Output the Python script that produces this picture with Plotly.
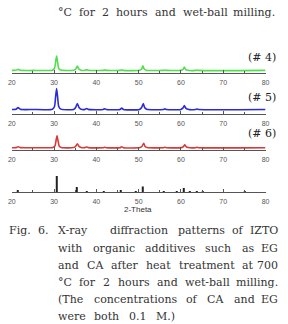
import plotly.graph_objects as go

W, H = 288, 324

# ---------------- data ----------------
two_theta_green = [20, 21.0, 21.5, 22.0, 25, 29.6, 30.1, 30.35, 30.6, 30.85, 31.1, 31.6, 34.6, 35.1, 35.5, 35.9, 36.4,
                   37.3, 37.7, 38.1, 41.6, 42.0, 42.4, 45.6, 46.0, 46.4, 50.2, 50.7, 51.0, 51.3, 51.8, 55.8, 56.2, 56.6,
                   60.0, 60.5, 60.8, 61.1, 61.6, 63.4, 63.8, 64.2, 80]
intensity_green = [2.6, 2.7, 3.6, 2.7, 2.6, 2.8, 4.5, 10.5, 17.0, 10.5, 4.5, 2.9, 2.7, 3.8, 7.0, 3.8, 2.8,
                   2.7, 3.4, 2.7, 2.6, 3.1, 2.6, 2.6, 3.1, 2.6, 2.7, 4.0, 7.3, 4.0, 2.8, 2.6, 3.0, 2.6,
                   2.7, 3.7, 6.0, 3.7, 2.8, 2.6, 3.0, 2.6, 2.6]

two_theta_blue = [20, 21.0, 21.5, 22.0, 25, 29.6, 30.1, 30.35, 30.6, 30.85, 31.1, 31.6, 34.6, 35.1, 35.5, 35.9, 36.4,
                  37.3, 37.7, 38.1, 41.6, 42.0, 42.4, 45.6, 46.0, 46.4, 50.2, 50.7, 51.1, 51.4, 51.9, 55.8, 56.2, 56.6,
                  60.0, 60.5, 60.8, 61.1, 61.6, 63.4, 63.8, 64.2, 80]
intensity_blue = [4.0, 4.2, 6.0, 4.2, 4.0, 4.3, 7.0, 16.0, 25.0, 16.0, 7.0, 4.4, 4.1, 6.0, 10.0, 6.0, 4.3,
                  4.1, 5.0, 4.1, 4.0, 4.8, 4.0, 4.0, 5.5, 4.0, 4.1, 6.0, 10.0, 6.0, 4.3, 4.0, 4.6, 4.0,
                  4.1, 5.6, 8.0, 5.6, 4.3, 4.0, 4.5, 4.0, 4.0]

two_theta_red = [20, 21.0, 21.5, 22.0, 25, 29.7, 30.2, 30.45, 30.7, 30.95, 31.2, 31.7, 34.6, 35.1, 35.5, 35.9, 36.4,
                 37.3, 37.7, 38.1, 41.6, 42.0, 42.4, 45.6, 46.0, 46.4, 50.3, 50.8, 51.2, 51.5, 52.0, 55.8, 56.2, 56.6,
                 60.1, 60.6, 60.9, 61.2, 61.7, 63.4, 63.8, 64.2, 80]
intensity_red = [2.3, 2.4, 3.3, 2.4, 2.3, 2.5, 4.0, 9.0, 14.3, 9.0, 4.0, 2.5, 2.4, 3.6, 6.3, 3.6, 2.5,
                 2.4, 3.0, 2.4, 2.3, 2.8, 2.3, 2.3, 3.2, 2.3, 2.4, 3.8, 6.8, 3.8, 2.5, 2.3, 2.7, 2.3,
                 2.4, 3.4, 5.3, 3.4, 2.5, 2.3, 2.7, 2.3, 2.3]

ref_two_theta = [21.5, 30.58, 35.47, 37.7, 41.85, 45.69, 49.3, 51.04, 55.99, 59.1, 60.68, 62.2, 63.7, 65.2, 75.2]
ref_intensity = [1.5, 16.0, 5.0, 1.0, 1.0, 1.2, 0.8, 5.5, 1.0, 0.8, 4.0, 0.8, 1.0, 0.8, 0.8]

panel_labels = ["(# 4)", "(# 5)", "(# 6)"]
tick_values = [20, 30, 40, 50, 60, 70, 80]
x_title = "2-Theta"

# caption words: (text, x px, anchor)
caption_top = [("°C", 53, "left"), ("for", 75, "left"), ("2", 99, "left"), ("hours", 113, "left"),
               ("and", 153, "left"), ("wet-ball", 182, "left"), ("milling.", 281, "right")]
caption_lines = [
    [("Fig.", 3, "left"), ("6.", 33, "left"), ("X-ray", 53, "left"), ("diffraction", 107, "left"),
     ("patterns", 177, "left"), ("of", 232, "left"), ("IZTO", 284, "right")],
    [("with", 53, "left"), ("organic", 89, "left"), ("additives", 143, "left"), ("such", 205, "left"),
     ("as", 243, "left"), ("EG", 284, "right")],
    [("and", 53, "left"), ("CA", 83, "left"), ("after", 108, "left"), ("heat", 144, "left"),
     ("treatment", 178, "left"), ("at", 243, "left"), ("700", 284, "right")],
    [("°C", 53, "left"), ("for", 75, "left"), ("2", 100, "left"), ("hours", 115, "left"),
     ("and", 155, "left"), ("wet-ball", 184, "left"), ("milling.", 284, "right")],
    [("(The", 53, "left"), ("concentrations", 90, "left"), ("of", 185, "left"), ("CA", 207, "left"),
     ("and", 235, "left"), ("EG", 284, "right")],
    [("were", 53, "left"), ("both", 90, "left"), ("0.1", 127, "left"), ("M.)", 154, "left")],
]
caption_y = [231, 248, 265, 282, 299, 316]

# ---------------- layout helpers ----------------
def px_x(p):
    return p / W

def px_y(p):
    return 1 - p / H

axis_px = [73, 113.5, 150, 192]
panel_h = 30
x0, x1 = 8, 269

fig = go.Figure()
series = [
    (two_theta_green, intensity_green, "#4fe04a"),
    (two_theta_blue, intensity_blue, "#2b2bd6"),
    (two_theta_red, intensity_red, "#d83a3a"),
]
for i, (xs, ys, col) in enumerate(series):
    ax = "" if i == 0 else str(i + 1)
    fig.add_trace(go.Scatter(x=xs, y=ys, mode="lines", line=dict(color=col, width=1.6, shape="spline", smoothing=0.6),
                             xaxis="x" + ax, yaxis="y" + ax, showlegend=False, hoverinfo="skip"))
fig.add_trace(go.Bar(x=ref_two_theta, y=ref_intensity, width=0.28, marker=dict(color="#222222", line=dict(width=0)),
                     xaxis="x4", yaxis="y4", showlegend=False, hoverinfo="skip"))

layout = dict(width=W, height=H, margin=dict(l=0, r=0, t=0, b=0), paper_bgcolor="white", plot_bgcolor="white",
              showlegend=False)
for i in range(4):
    k = "" if i == 0 else str(i + 1)
    bot = axis_px[i]
    layout["xaxis" + k] = dict(domain=[px_x(x0), px_x(x1)], range=[20, 80], anchor="y" + k,
                               showline=True, linecolor="#555", linewidth=1, showgrid=False, zeroline=False,
                               tickvals=tick_values, ticks="inside", ticklen=3, tickcolor="#555", tickwidth=1,
                               ticklabelstandoff=3,
                               minor=dict(dtick=5, tick0=20, ticks="inside", ticklen=2, tickcolor="#555"),
                               tickfont=dict(family="Liberation Sans", size=7, color="#555"))
    layout["yaxis" + k] = dict(domain=[px_y(bot), px_y(bot - panel_h)], range=[0, panel_h], anchor="x" + k,
                               visible=False, fixedrange=True)
fig.update_layout(**layout)

ann = []
for lbl, py in zip(panel_labels, [57, 97, 133]):
    ann.append(dict(text=lbl, x=px_x(282), y=px_y(py), xref="paper", yref="paper", xanchor="right", yanchor="middle",
                    showarrow=False, font=dict(family="DejaVu Serif", size=11, color="#222")))
ann.append(dict(text=x_title, x=px_x(138), y=px_y(209), xref="paper", yref="paper", xanchor="center",
                yanchor="middle", showarrow=False, font=dict(family="Liberation Sans", size=8, color="#333")))

serif = dict(family="DejaVu Serif", size=11, color="#333")
for word, px, anc in caption_top:
    ann.append(dict(text=word, x=px_x(px), y=px_y(13), xref="paper", yref="paper", xanchor=anc,
                    yanchor="middle", showarrow=False, font=serif))
for line, py in zip(caption_lines, caption_y):
    for word, px, anc in line:
        ann.append(dict(text=word, x=px_x(px), y=px_y(py), xref="paper", yref="paper", xanchor=anc,
                        yanchor="middle", showarrow=False, font=serif))
fig.update_layout(annotations=ann)

fig.write_html("out.html")
